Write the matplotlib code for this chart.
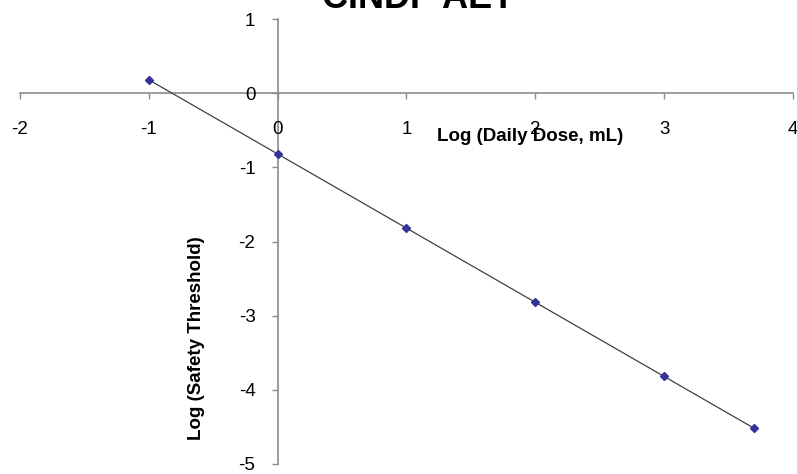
import matplotlib.pyplot as plt

plt.rcParams['font.family'] = ['Liberation Sans', 'DejaVu Sans']
plt.rcParams['axes.unicode_minus'] = False

# values
log_dose = [-1, 0, 1, 2, 3, 3.7]
log_threshold = [0.18, -0.82, -1.82, -2.82, -3.82, -4.52]
x_ticks = [-2, -1, 0, 1, 2, 3, 4]
y_ticks = [1, 0, -1, -2, -3, -4, -5]

fig = plt.figure(figsize=(7.97, 4.74), dpi=100)
ax = fig.add_axes([20 / 797, 10 / 474, 773 / 797, 445 / 474])

ax.plot(log_dose, log_threshold, color='#404040', lw=0.9, zorder=2)
ax.plot(log_dose, log_threshold, 'D', color='#333399', ms=4.5, zorder=3)

ax.set_xlim(-2, 4)
ax.set_ylim(-5, 1)
ax.set_xticks(x_ticks)
ax.set_yticks(y_ticks)

gray = '#8c8c8c'
ax.spines['left'].set_position(('data', 0))
ax.spines['bottom'].set_position(('data', 0))
ax.spines['top'].set_visible(False)
ax.spines['right'].set_visible(False)
for s in ('left', 'bottom'):
    ax.spines[s].set_color(gray)
    ax.spines[s].set_linewidth(1.2)
    ax.spines[s].set_zorder(1)

ax.tick_params(axis='x', direction='out', length=4, width=1, color=gray,
               pad=16, labelsize=13.5)
ax.tick_params(axis='y', direction='out', length=4, width=1, color=gray,
               pad=12, labelsize=13.5)
for t in ax.get_xticklabels() + ax.get_yticklabels():
    t.set_clip_on(False)

ax.text(1.96, -0.58, 'Log (Daily Dose, mL)', fontsize=13.5, fontweight='bold',
        ha='center', va='center')
ax.text(-0.63, -3.3, 'Log (Safety Threshold)', fontsize=13.5, fontweight='bold',
        ha='center', va='center', rotation=90)

fig.text(0.525, 0.984, 'CINDP AET', fontsize=26, fontweight='bold',
         ha='center', va='baseline')

fig.savefig('out.png', dpi=100)
